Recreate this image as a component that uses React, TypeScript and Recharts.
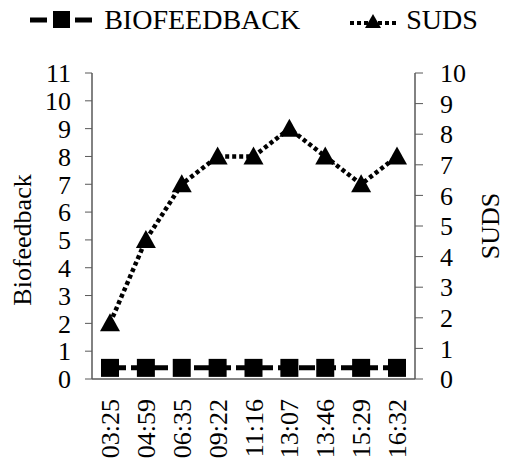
import React from 'react';
import { LineChart, Line, XAxis, YAxis, Legend } from 'recharts';

const times = ['03:25', '04:59', '06:35', '09:22', '11:16', '13:07', '13:46', '15:29', '16:32'];
const biofeedback = [0.4, 0.4, 0.4, 0.4, 0.4, 0.4, 0.4, 0.4, 0.4];
const suds = [2, 5, 7, 8, 8, 9, 8, 7, 8];
const leftTicks = [0, 1, 2, 3, 4, 5, 6, 7, 8, 9, 10, 11];
const rightTicks = [0, 1, 2, 3, 4, 5, 6, 7, 8, 9, 10];

const data = times.map((t, i) => ({ time: t, biofeedback: biofeedback[i], suds: suds[i] }));

const FONT = 'Liberation Serif';

const SquareDot = (props: any) => {
  const { cx, cy } = props;
  if (cx == null || cy == null) return null;
  return <rect x={cx - 9} y={cy - 9} width={18} height={18} fill="#000" />;
};

const TriangleDot = (props: any) => {
  const { cx, cy } = props;
  if (cx == null || cy == null) return null;
  return <polygon points={`${cx},${cy - 10} ${cx + 10},${cy + 8} ${cx - 10},${cy + 8}`} fill="#000" />;
};

const TimeTick = (props: any) => {
  const { x, y, payload } = props;
  return (
    <text
      x={x}
      y={y}
      transform={`rotate(-90, ${x}, ${y})`}
      textAnchor="end"
      dy={9}
      dx={-12}
      fontFamily={FONT}
      fontSize={26}
      fill="#000"
    >
      {payload.value}
    </text>
  );
};

// legend drawn by hand: dash-marker-dash icons like the original
const renderLegend = () => (
  <div style={{ display: 'flex', justifyContent: 'center', alignItems: 'center', fontFamily: FONT, fontSize: 28, color: '#000', height: 30, lineHeight: '30px' }}>
    <svg width={62} height={22} style={{ marginRight: 12 }}>
      <line x1={0} y1={11} x2={17} y2={11} stroke="#000" strokeWidth={5} />
      <rect x={23} y={2} width={17} height={17} fill="#000" />
      <line x1={45} y1={11} x2={62} y2={11} stroke="#000" strokeWidth={5} />
    </svg>
    <span>BIOFEEDBACK</span>
    <svg width={46} height={22} style={{ marginLeft: 50, marginRight: 10 }}>
      <line x1={0} y1={14} x2={46} y2={14} stroke="#000" strokeWidth={4} strokeDasharray="4 3" />
      <polygon points="23,5 31,19 15,19" fill="#000" />
    </svg>
    <span>SUDS</span>
  </div>
);

const tickStyle = { fontFamily: FONT, fontSize: 26, fill: '#000' };

export default function App() {
  return (
    <div style={{ position: 'absolute', left: 0, top: 0, background: '#fff' }}>
      <LineChart width={508} height={461} data={data} margin={{ top: 43, right: 0, left: 0, bottom: 0 }}>
        <Legend
          verticalAlign="top"
          content={renderLegend}
          wrapperStyle={{ top: 5, left: 0, width: 508 }}
        />
        <XAxis
          dataKey="time"
          height={82}
          tick={<TimeTick />}
          tickLine={false}
          axisLine={{ stroke: '#595959', strokeWidth: 1.5 }}
          interval={0}
          padding={{ left: 18, right: 18 }}
        />
        <YAxis
          yAxisId="left"
          width={92}
          domain={[0, 11]}
          ticks={leftTicks}
          interval={0}
          tick={tickStyle}
          tickLine={{ stroke: '#595959' }}
          tickSize={7}
          tickMargin={14}
          axisLine={{ stroke: '#595959', strokeWidth: 1.5 }}
          label={{ value: 'Biofeedback', angle: -90, position: 'insideLeft', offset: 22, dy: 14, fontFamily: FONT, fontSize: 26, fill: '#000', textAnchor: 'middle' }}
        />
        <YAxis
          yAxisId="right"
          orientation="right"
          width={93}
          domain={[0, 10]}
          ticks={rightTicks}
          interval={0}
          allowDataOverflow
          tick={tickStyle}
          tickLine={{ stroke: '#595959' }}
          tickSize={8}
          tickMargin={17}
          axisLine={{ stroke: '#595959', strokeWidth: 1.5 }}
          label={{ value: 'SUDS', angle: -90, position: 'insideRight', offset: 18, fontFamily: FONT, fontSize: 26, fill: '#000', textAnchor: 'middle' }}
        />
        <Line
          yAxisId="left"
          type="linear"
          dataKey="biofeedback"
          name="BIOFEEDBACK"
          stroke="#000"
          strokeWidth={5}
          strokeDasharray="16 5"
          dot={<SquareDot />}
          activeDot={false}
          isAnimationActive={false}
        />
        <Line
          yAxisId="left"
          type="linear"
          dataKey="suds"
          name="SUDS"
          stroke="#000"
          strokeWidth={4.5}
          strokeDasharray="4 3"
          dot={<TriangleDot />}
          activeDot={false}
          isAnimationActive={false}
        />
      </LineChart>
    </div>
  );
}
